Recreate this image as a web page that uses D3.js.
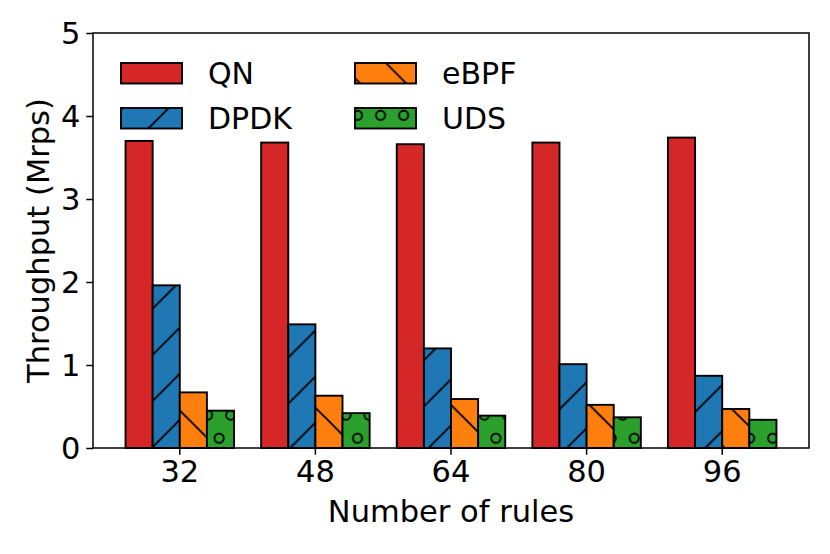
<!DOCTYPE html>
<html>
<head>
<meta charset="utf-8">
<script src="https://cdn.jsdelivr.net/npm/d3@7"></script>
<style>
  html, body { margin: 0; padding: 0; background: #fff; }
  svg { display: block; font-family: "DejaVu Sans", sans-serif; }
</style>
</head>
<body>
<svg id="chart" width="830" height="554"></svg>
<script>
// ---- data ----
const categories = ["32", "48", "64", "80", "96"];
const seriesNames = ["QN", "DPDK", "eBPF", "UDS"];
const qnValues   = [3.70, 3.68, 3.66, 3.68, 3.74];
const dpdkValues = [1.96, 1.49, 1.20, 1.01, 0.87];
const ebpfValues = [0.67, 0.63, 0.59, 0.52, 0.47];
const udsValues  = [0.45, 0.42, 0.39, 0.37, 0.34];
const yTicks = [0, 1, 2, 3, 4, 5];
const xLabel = "Number of rules";
const yLabel = "Throughput (Mrps)";

const seriesValues = [qnValues, dpdkValues, ebpfValues, udsValues];
const colors = ["#d62728", "#1f77b4", "#ff7f0e", "#2ca02c"];
const hatches = ["none", "fwd", "back", "circ"];

// ---- layout ----
const svg = d3.select("#chart");
const L = 93, R = 809, T = 33, B = 448;
const P = 46.13;          // hatch period (px)
const O = P / 2;          // circle spacing
const HW = 1.9;           // hatch line width

const x0 = d3.scaleBand().domain(categories).range([L, R]).paddingInner(0).paddingOuter(0.14);
const x1 = d3.scaleBand().domain(seriesNames).range([x0.bandwidth() * 0.1, x0.bandwidth() * 0.9]).padding(0);
const y = d3.scaleLinear().domain([0, 5]).range([B, T]);

// ---- hatch patterns ----
const defs = svg.append("defs");
function mkPattern(id, color, kind) {
  if (kind === "circ") {
    const p = defs.append("pattern").attr("id", id).attr("patternUnits", "userSpaceOnUse")
      .attr("x", 0).attr("y", 0).attr("width", O).attr("height", 2 * O);
    p.append("rect").attr("width", O).attr("height", 2 * O).attr("fill", color);
    const pts = [[0, 0], [O, 0], [0, 2 * O], [O, 2 * O], [O / 2, O]];
    pts.forEach(([cx, cy]) => p.append("circle").attr("cx", cx).attr("cy", cy).attr("r", 4.6)
      .attr("fill", "none").attr("stroke", "#000").attr("stroke-width", HW));
    return;
  }
  const p = defs.append("pattern").attr("id", id).attr("patternUnits", "userSpaceOnUse")
    .attr("x", 0).attr("y", 0).attr("width", P).attr("height", P);
  p.append("rect").attr("width", P).attr("height", P).attr("fill", color);
  const segs = kind === "fwd"
    ? [[-2, P + 2, P + 2, -2], [-2, 2, 2, -2], [P - 2, P + 2, P + 2, P - 2]]
    : [[-2, -2, P + 2, P + 2], [P - 2, -2, P + 2, 2], [-2, P - 2, 2, P + 2]];
  segs.forEach(s => p.append("line").attr("x1", s[0]).attr("y1", s[1]).attr("x2", s[2]).attr("y2", s[3])
    .attr("stroke", "#000").attr("stroke-width", HW));
}
seriesNames.forEach((s, i) => { if (hatches[i] !== "none") mkPattern("h" + i, colors[i], hatches[i]); });
const fillOf = i => hatches[i] === "none" ? colors[i] : `url(#h${i})`;

// ---- bars ----
const g = svg.append("g");
seriesNames.forEach((s, si) => {
  g.selectAll(null).data(categories).enter().append("rect")
    .attr("x", c => x0(c) + x1(s))
    .attr("y", (c, ci) => y(seriesValues[si][ci]))
    .attr("width", x1.bandwidth())
    .attr("height", (c, ci) => y(0) - y(seriesValues[si][ci]))
    .attr("fill", fillOf(si))
    .attr("stroke", "#000").attr("stroke-width", 1.9);
});

// ---- axes ----
const xAxis = svg.append("g").attr("transform", `translate(0,${B})`)
  .call(d3.axisBottom(x0).tickSize(6.7).tickPadding(6).tickSizeOuter(0));
const yAxis = svg.append("g").attr("transform", `translate(${L},0)`)
  .call(d3.axisLeft(y).tickValues(yTicks).tickFormat(d3.format("d")).tickSize(6.7).tickPadding(6).tickSizeOuter(0));
[xAxis, yAxis].forEach(a => {
  a.select(".domain").remove();
  a.selectAll(".tick line").attr("stroke", "#000").attr("stroke-width", 1.5);
  a.selectAll(".tick text").attr("font-size", 30.5).attr("fill", "#000").attr("font-family", "DejaVu Sans");
});
yAxis.selectAll(".tick text").attr("dy", "0.36em");

// spines
svg.append("rect").attr("x", L).attr("y", T).attr("width", R - L).attr("height", B - T)
  .attr("fill", "none").attr("stroke", "#000").attr("stroke-width", 1.5);

// labels
svg.append("text").attr("x", (L + R) / 2).attr("y", 522).attr("text-anchor", "middle")
  .attr("font-size", 30.5).text(xLabel);
svg.append("text").attr("transform", `translate(49,${(T + B) / 2}) rotate(-90)`).attr("text-anchor", "middle")
  .attr("font-size", 30.5).text(yLabel);

// ---- legend ----
const legPos = [[121, 63], [121, 108], [355, 63], [355, 108]];
seriesNames.forEach((s, i) => {
  const [lx, ly] = legPos[i];
  svg.append("rect").attr("x", lx).attr("y", ly).attr("width", 61).attr("height", 20.5)
    .attr("fill", fillOf(i)).attr("stroke", "#000").attr("stroke-width", 1.9);
  svg.append("text").attr("x", lx + 87).attr("y", ly + 21).attr("font-size", 30).text(s);
});
</script>
</body>
</html>
